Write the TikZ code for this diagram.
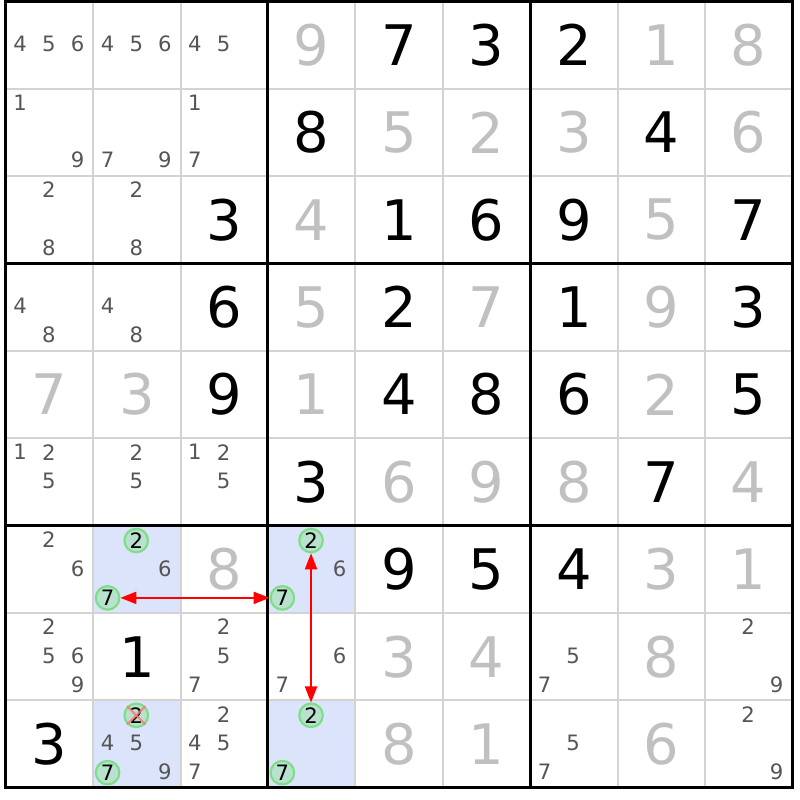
\documentclass[tikz,border=0pt]{standalone}
\usepackage{fontspec}
\setmainfont{DejaVu Sans}
\usetikzlibrary{arrows.meta}
\definecolor{candgray}{RGB}{85,85,85}
\definecolor{solvedgray}{RGB}{192,192,192}
\definecolor{gridgray}{RGB}{211,211,211}
\definecolor{hlblue}{RGB}{220,228,252}
\definecolor{linkgreen}{RGB}{125,222,135}
\definecolor{linkfill}{RGB}{184,226,206}
\tikzset{given/.style={font=\fontsize{18.2}{18}\selectfont,inner sep=0},
         solved/.style={given,color=solvedgray},
         cand/.style={font=\fontsize{6.9}{7}\selectfont,color=candgray,inner sep=0},
         linked/.style={cand,color=black,circle,draw=linkgreen,fill=linkfill,line width=0.7pt,minimum size=0.27cm},
         link/.style={red,line width=0.45pt,{Triangle[length=5.2pt,width=4pt]}-{Triangle[length=5.2pt,width=4pt]}},
         xmark/.style={red!55,opacity=0.8,line width=0.7pt}
}

\begin{document}
\begin{tikzpicture}
  \useasboundingbox(-0.066,0.015)rectangle(9.088,-9.133);
  \foreach\c/\r in {1/6,3/6,1/8,3/8}
     \fill[hlblue](\c,-\r)rectangle++(1,-1);
  \foreach\i in {1,...,8} {
     \draw[gridgray,line width=0.65pt](\i,0)--(\i,-9);
     \draw[gridgray,line width=0.65pt](0,-\i)--(9,-\i);
  }
  \foreach\i in {3,6} {
     \draw[line width=1pt](\i,0)--(\i,-9);
     \draw[line width=1pt](0,-\i)--(9,-\i);
  }
  \draw[line width=1pt](0,0)rectangle(9,-9);
  % givens
  \foreach\c/\r/\d in {4/0/7,5/0/3,6/0/2,3/1/8,7/1/4,2/2/3,4/2/1,5/2/6,6/2/9,8/2/7,
                       2/3/6,4/3/2,6/3/1,8/3/3,2/4/9,4/4/4,5/4/8,6/4/6,8/4/5,3/5/3,7/5/7,
                       4/6/9,5/6/5,6/6/4,1/7/1,0/8/3}
     \node[given](g-\c-\r)at(\c+.5,-\r-.5){\d};
  \foreach\c/\r/\d in {3/0/9,7/0/1,8/0/8,4/1/5,5/1/2,6/1/3,8/1/6,3/2/4,7/2/5,3/3/5,5/3/7,7/3/9,
                       0/4/7,1/4/3,3/4/1,7/4/2,4/5/6,5/5/9,6/5/8,8/5/4,2/6/8,7/6/3,8/6/1,
                       4/7/3,5/7/4,7/7/8,4/8/8,5/8/1,7/8/6}
     \node[solved](g-\c-\r)at(\c+.5,-\r-.5){\d};
  % candidates
  \foreach\c/\r/\list in {0/0/{4,5,6},1/0/{4,5,6},2/0/{4,5},0/1/{1,9},1/1/{7,9},2/1/{1,7},
                          0/2/{2,8},1/2/{2,8},0/3/{4,8},1/3/{4,8},0/5/{1,2,5},1/5/{2,5},2/5/{1,2,5},
                          0/6/{2,6},1/6/{6},3/6/{6},0/7/{2,5,6,9},2/7/{2,5,7},3/7/{6,7},6/7/{5,7},8/7/{2,9},
                          1/8/{4,5,9},2/8/{2,4,5,7},6/8/{5,7},8/8/{2,9}} {
     \foreach\d in \list {
        \pgfmathtruncatemacro\dx{mod(\d-1,3)}
        \pgfmathtruncatemacro\dy{(\d-1)/3}
        \node[cand](c-\c-\r-\d)at({\c+.165+.328*\dx},{-\r-.16-.328*\dy}){\d};
     }
  }
  \foreach\c/\r/\d in {1/6/2,1/6/7,3/6/2,3/6/7,1/8/2,1/8/7,3/8/2,3/8/7} {
     \pgfmathtruncatemacro\dx{mod(\d-1,3)}
     \pgfmathtruncatemacro\dy{(\d-1)/3}
     \node[linked](c-\c-\r-\d)at({\c+.165+.328*\dx},{-\r-.17-.328*\dy}){\d};
  }
  \draw[xmark](c-1-8-2.north west)--(c-1-8-2.south east);
  \draw[xmark](c-1-8-2.north east)--(c-1-8-2.south west);
  \draw[link](c-1-6-7)--(c-3-6-7);
  \draw[link](c-3-6-2)--(c-3-8-2);
\end{tikzpicture}
\end{document}
